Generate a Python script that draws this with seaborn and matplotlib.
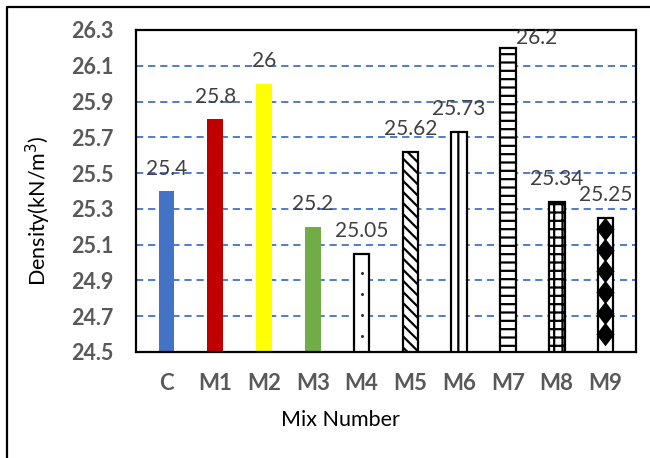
import numpy as np
import pandas as pd
import seaborn as sns
import matplotlib
matplotlib.use("Agg")
import matplotlib.pyplot as plt
from matplotlib.path import Path
from matplotlib.lines import Line2D

# Mix designs and their measured densities (kN/m^3)
mixes = ["C", "M1", "M2", "M3", "M4", "M5", "M6", "M7", "M8", "M9"]
density = [25.4, 25.8, 26.0, 25.2, 25.05, 25.62, 25.73, 26.2, 25.34, 25.25]
value_labels = ["25.4", "25.8", "26", "25.2", "25.05", "25.62", "25.73", "26.2", "25.34", "25.25"]
bar_colors = ["#4472C4", "#C00000", "#FFFF00", "#70AD47",
              "white", "white", "white", "white", "white", "white"]
bar_hatches = [None, None, None, None, None, "\\\\\\", "|", "--", "++", None]
y_ticks = [24.5, 24.7, 24.9, 25.1, 25.3, 25.5, 25.7, 25.9, 26.1, 26.3]

sns.set_theme(style="white")
plt.rcParams["font.family"] = ["Lato", "DejaVu Sans"]
plt.rcParams["hatch.linewidth"] = 1.6
plt.rcParams["hatch.color"] = "black"

fig = plt.figure(figsize=(6.5, 4.58), dpi=100)
ax = fig.add_axes([136 / 650, 1 - 352 / 458, 500 / 650, 322 / 458])

df = pd.DataFrame({"mix": mixes, "density": density})
sns.barplot(data=df, x="mix", y="density", hue="mix", palette=bar_colors,
            width=0.32, legend=False, saturation=1, ax=ax)

ax.set_ylim(y_ticks[0], y_ticks[-1])
ax.set_yticks(y_ticks)
ax.set_yticklabels([f"{t:.1f}" for t in y_ticks])
ax.set_axisbelow(True)
ax.yaxis.grid(True, color="#4472C4", linewidth=1.3, linestyle=(0, (4.0, 2.7)))
ax.xaxis.grid(False)

for s in ax.spines.values():
    s.set_color("black")
    s.set_linewidth(1.6)
    s.set_visible(True)

ax.tick_params(axis="both", length=0, labelcolor="#595959")
ax.tick_params(axis="y", pad=16, labelsize=15.5)
ax.tick_params(axis="x", pad=15, labelsize=16)
for lab in ax.get_xticklabels() + ax.get_yticklabels():
    lab.set_fontweight("bold")

ax.set_xlabel("Mix Number", fontsize=15.5, color="black")
ax.set_ylabel("Density(kN/m$^3$)", fontsize=15.5, color="black")
ax.xaxis.set_label_coords(0.408, -0.18)
ax.yaxis.set_label_coords(-0.166, 0.438)

patches = list(ax.patches)
for p, col, h in zip(patches, bar_colors, bar_hatches):
    if col == "white":
        p.set_edgecolor("black")
        p.set_linewidth(1.6)
    else:
        p.set_edgecolor("none")
    if h:
        p.set_hatch(h)

fig.canvas.draw()
trans = ax.transData
inv = trans.inverted()
ymin, ymax = ax.get_ylim()

# single-column motifs inside the dotted and diamond bars
diamond = Path([(0, 1.3), (1, 0), (0, -1.3), (-1, 0), (0, 1.3)],
               [Path.MOVETO, Path.LINETO, Path.LINETO, Path.LINETO, Path.CLOSEPOLY])
for idx, marker, ms, step_px, first_px, margin in [(4, "o", 2.2, 21, 19, 4),
                                                   (9, diamond, 17, 21, 11, 0)]:
    p = patches[idx]
    cx = p.get_x() + p.get_width() / 2
    top_disp = trans.transform((cx, density[idx]))[1]
    bot_disp = trans.transform((cx, ymin))[1]
    ys_disp = np.arange(top_disp - first_px, bot_disp + margin, -step_px)
    ys = [inv.transform((0, yd))[1] for yd in ys_disp]
    ax.plot([cx] * len(ys), ys, linestyle="none", marker=marker,
            markersize=ms, color="black" if idx == 9 else "#333333",
            markeredgewidth=0, zorder=1.5)

# value labels
for p, v, txt in zip(patches, density, value_labels):
    cx = p.get_x() + p.get_width() / 2
    if v + 0.17 > ymax:
        ax.annotate(txt, (p.get_x() + p.get_width(), v), xytext=(0, 0),
                    textcoords="offset points", ha="left", va="bottom",
                    fontsize=15, color="#404040")
    else:
        ax.annotate(txt, (cx, v), xytext=(0, 9), textcoords="offset points",
                    ha="center", va="bottom", fontsize=15, color="#404040")

# outer frame of the chart area
fig.add_artist(Line2D([7 / 650, 1.0], [1 - 7 / 458, 1 - 7 / 458],
                      transform=fig.transFigure, color="black", linewidth=1.6))
fig.add_artist(Line2D([7 / 650, 7 / 650], [0.0, 1 - 7 / 458],
                      transform=fig.transFigure, color="black", linewidth=1.6))

fig.savefig("out.png", dpi=100)
